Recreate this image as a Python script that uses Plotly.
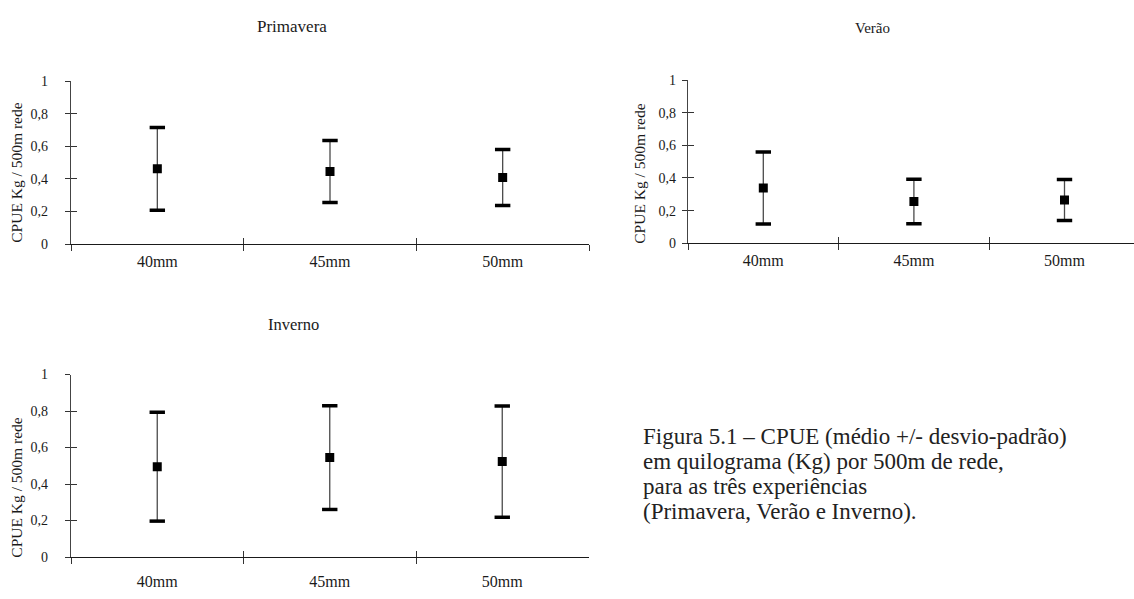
import plotly.graph_objects as go

# Mesh sizes tested in each season
CATEGORIES = ["40mm", "45mm", "50mm"]

# CPUE (kg / 500 m of net): mean and standard deviation per mesh size
PRIMAVERA_MEAN = [0.462, 0.446, 0.409]
PRIMAVERA_SD = [0.254, 0.190, 0.172]

VERAO_MEAN = [0.339, 0.256, 0.265]
VERAO_SD = [0.221, 0.136, 0.126]

INVERNO_MEAN = [0.495, 0.545, 0.523]
INVERNO_SD = [0.298, 0.284, 0.305]

Y_TICK_VALUES = [0, 0.2, 0.4, 0.6, 0.8, 1]
Y_TICK_TEXT = ["0", "0,2", "0,4", "0,6", "0,8", "1"]

Y_TITLE = "CPUE Kg / 500m rede"
CAPTION_LINES = [
    "Figura 5.1 – CPUE (médio +/- desvio-padrão)",
    "em quilograma (Kg) por 500m de rede,",
    "para as três experiências",
    "(Primavera, Verão e Inverno).",
]

W, H = 1134, 599
FONT = "Liberation Serif"
TEXT_COLOR = "#1a1a1a"


def px_x(x):
    return x / W


def px_y(y):
    return 1 - y / H


# Panel geometry in pixels: plot area edges, x range end, label standoffs,
# title and y-title positions
panels = [
    dict(name="Primavera", mean=PRIMAVERA_MEAN, sd=PRIMAVERA_SD,
         x0=71, x1=589, ytop=76, ybot=243.3, xr=2.5, ystandoff=14, xstandoff=2,
         title_xy=(292, 20), title_size=17, ytitle_xy=(17, 170)),
    dict(name="Verão", mean=VERAO_MEAN, sd=VERAO_SD,
         x0=688, x1=1134, ytop=75, ybot=242.3, xr=-0.5 + 446 / 150.6,
         ystandoff=3, xstandoff=2,
         title_xy=(872, 22), title_size=15, ytitle_xy=(640, 171)),
    dict(name="Inverno", mean=INVERNO_MEAN, sd=INVERNO_SD,
         x0=71, x1=588.5, ytop=377, ybot=564.2, xr=2.5, ystandoff=14, xstandoff=10,
         title_xy=(293, 326), title_size=16.5, ytitle_xy=(17, 493)),
]

fig = go.Figure()
layout = dict(
    width=W, height=H,
    margin=dict(l=0, r=0, t=0, b=0),
    paper_bgcolor="white", plot_bgcolor="white",
    showlegend=False,
    font=dict(family=FONT, color=TEXT_COLOR),
)
annotations = []

for i, p in enumerate(panels):
    main = i + 1          # axes carrying the data and the outside ticks
    over = i + 4          # overlaid axes carrying the inside half of each tick
    xd = [px_x(p["x0"]), px_x(p["x1"])]
    yd = [px_y(p["ybot"]), px_y(p["ytop"])]
    xa = "x" if main == 1 else f"x{main}"
    ya = "y" if main == 1 else f"y{main}"

    # error bar stems with the mean markers
    fig.add_trace(go.Scatter(
        x=CATEGORIES, y=p["mean"], mode="markers", xaxis=xa, yaxis=ya,
        marker=dict(symbol="square", size=9, color="black"),
        error_y=dict(type="data", array=p["sd"], visible=True,
                     thickness=1.3, width=0, color="#4a4a4a"),
        hoverinfo="skip",
    ))
    # error bar caps at mean +/- sd
    caps_y = [m + s for m, s in zip(p["mean"], p["sd"])] + \
             [m - s for m, s in zip(p["mean"], p["sd"])]
    fig.add_trace(go.Scatter(
        x=CATEGORIES * 2, y=caps_y, mode="markers", xaxis=xa, yaxis=ya,
        marker=dict(symbol="line-ew", size=11,
                    line=dict(width=3.5, color="black")),
        hoverinfo="skip",
    ))
    # placeholder trace so the overlay subplot exists
    fig.add_trace(go.Scatter(x=[], y=[], xaxis=f"x{over}", yaxis=f"y{over}",
                             hoverinfo="skip"))

    xkey = "xaxis" if main == 1 else f"xaxis{main}"
    ykey = "yaxis" if main == 1 else f"yaxis{main}"
    layout[xkey] = dict(
        domain=xd, anchor=ya, type="category", range=[-0.5, p["xr"]],
        categoryorder="array", categoryarray=CATEGORIES,
        tickson="boundaries", ticks="outside", ticklen=6, tickwidth=1,
        tickcolor="#333", showline=True, linecolor="#1a1a1a", linewidth=1.3,
        showgrid=False, zeroline=False, ticklabelstandoff=p["xstandoff"],
        tickfont=dict(family=FONT, size=16, color=TEXT_COLOR),
    )
    layout[ykey] = dict(
        domain=yd, anchor=xa, range=[0, 1],
        tickvals=Y_TICK_VALUES, ticktext=Y_TICK_TEXT,
        ticks="outside", ticklen=5, tickwidth=1, tickcolor="#333",
        showline=True, linecolor="#444", linewidth=1.3,
        showgrid=False, zeroline=False, ticklabelstandoff=p["ystandoff"],
        tickfont=dict(family=FONT, size=14, color=TEXT_COLOR),
    )
    layout[f"xaxis{over}"] = dict(
        domain=xd, anchor=f"y{over}", overlaying=xa, range=[-0.5, p["xr"]],
        tickvals=[0.5, 1.5, 2.5], ticks="inside", ticklen=6, tickwidth=1,
        tickcolor="#333", showticklabels=False, showline=False,
        showgrid=False, zeroline=False,
    )
    layout[f"yaxis{over}"] = dict(
        domain=yd, anchor=f"x{over}", overlaying=ya, range=[0, 1],
        tickvals=Y_TICK_VALUES, ticks="inside", ticklen=6, tickwidth=1,
        tickcolor="#333", showticklabels=False, showline=False,
        showgrid=False, zeroline=False,
    )

    tx, ty = p["title_xy"]
    annotations.append(dict(
        text=p["name"], x=px_x(tx), y=px_y(ty), xref="paper", yref="paper",
        xanchor="center", yanchor="middle", showarrow=False,
        font=dict(family=FONT, size=p["title_size"], color=TEXT_COLOR),
    ))
    ax_, ay_ = p["ytitle_xy"]
    annotations.append(dict(
        text=Y_TITLE, x=px_x(ax_), y=px_y(ay_), xref="paper", yref="paper",
        xanchor="center", yanchor="middle", showarrow=False, textangle=-90,
        font=dict(family=FONT, size=15.5, color=TEXT_COLOR),
    ))

# figure caption, one annotation per line
for k, line in enumerate(CAPTION_LINES):
    annotations.append(dict(
        text=line, x=px_x(641), y=px_y(441 + 25.6 * k), xref="paper", yref="paper",
        xanchor="left", yanchor="middle", showarrow=False,
        font=dict(family=FONT, size=23, color="#222222"),
    ))

layout["annotations"] = annotations
fig.update_layout(**layout)
fig.write_html("out.html")
